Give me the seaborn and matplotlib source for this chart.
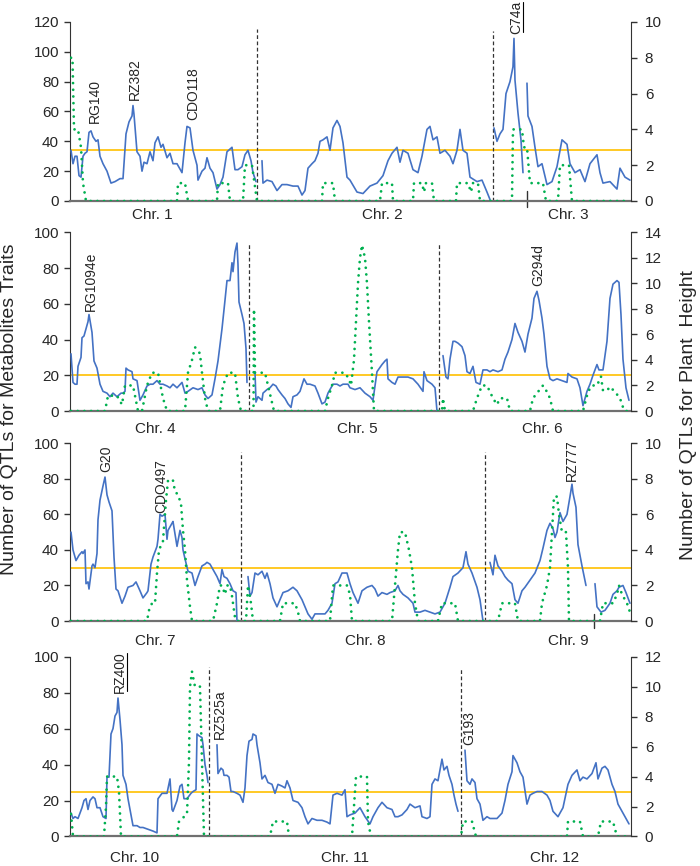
import numpy as np
import pandas as pd
import matplotlib
matplotlib.use('Agg')
import matplotlib.pyplot as plt
from matplotlib.lines import Line2D
import seaborn as sns

sns.set_style('ticks')
plt.rcParams['font.family'] = ['Liberation Sans', 'DejaVu Sans']

# ─── Metabolite QTL counts (left axis) along the genome ───────────────────────
chr1_pos = [1, 3, 5, 7, 9, 11, 13, 15, 17, 19, 21, 23, 26, 28, 30, 33, 37, 41, 45, 50,
            53, 56, 59, 62, 63, 64, 67, 70, 72, 74, 77, 80, 83, 85, 88, 91, 93, 97, 100, 103,
            107, 112, 115, 117, 120, 123, 127, 128, 132, 135, 137, 140, 143, 147, 150, 153, 157, 162, 165, 168,
            172, 175, 178, 181, 183, 186]
chr1_met = [34, 25, 30, 30, 17, 16, 30, 32, 33, 46, 47, 43, 40, 41, 30, 25, 20, 12, 13, 15,
            15, 45, 53, 57, 64, 58, 33, 30, 20, 26, 25, 33, 27, 39, 43, 36, 38, 29, 32, 25,
            25, 19, 39, 50, 49, 34, 24, 14, 20, 22, 29, 22, 19, 8, 11, 16, 33, 36, 21, 21,
            23, 31, 34, 27, 19, 13]
chr2_pos = [192, 193, 197, 202, 207, 212, 217, 223, 228, 232, 235, 238, 242, 245, 248, 250, 253, 257, 260, 263,
            267, 270, 273, 277, 280, 287, 293, 300, 307, 313, 318, 322, 327, 330, 333, 338, 343, 348, 352, 357,
            360, 363, 367, 370, 375, 380, 383, 387, 390, 393, 397, 400, 407, 412, 417, 420]
chr2_met = [27, 12, 14, 13, 7, 11, 11, 10, 10, 4, 7, 22, 25, 27, 32, 40, 41, 43, 34, 49,
            54, 50, 39, 16, 14, 6, 5, 10, 12, 17, 27, 32, 36, 26, 34, 32, 21, 19, 30, 48,
            50, 41, 43, 32, 34, 30, 25, 34, 48, 34, 32, 16, 13, 14, 6, 1]
chr3a_pos = [424, 427, 430, 433, 436, 440, 443, 444, 445, 448, 451, 453]
chr3a_met = [49, 40, 45, 48, 72, 80, 90, 109, 81, 59, 41, 19]
chr3b_pos = [457, 458, 462, 465, 468, 472, 477, 482, 487, 492, 497, 500, 505, 510, 515, 520,
             527, 530, 533, 540, 547, 550, 555, 560]
chr3b_met = [79, 57, 50, 36, 23, 25, 11, 13, 23, 41, 38, 25, 19, 21, 13, 25,
             31, 19, 12, 13, 8, 22, 16, 14]

chr4_pos = [1, 3, 5, 7, 8, 11, 12, 14, 16, 18, 19, 22, 24, 27, 30, 33, 37, 40, 43, 47,
            51, 53, 55, 56, 58, 62, 63, 67, 70, 73, 77, 80, 83, 87, 90, 93, 97, 100, 103, 107,
            112, 115, 118, 123, 128, 132, 135, 138, 142, 145, 148, 152, 155, 157, 160, 162, 163, 165, 167, 168,
            169, 172, 174, 176, 177]
chr4_met = [32, 16, 15, 15, 25, 30, 41, 42, 46, 50, 54, 44, 28, 24, 15, 11, 10, 8, 10, 8,
            10, 10, 11, 24, 23, 22, 18, 17, 6, 9, 14, 15, 15, 17, 15, 15, 14, 13, 15, 13,
            16, 10, 11, 13, 12, 13, 9, 7, 9, 18, 28, 46, 62, 73, 73, 83, 78, 89, 94, 82,
            61, 54, 49, 35, 16]
chr5_pos = [185, 186, 188, 192, 193, 197, 200, 203, 206, 208, 212, 215, 218, 221, 223, 227, 230, 234, 237, 240,
            245, 248, 252, 255, 258, 263, 267, 270, 273, 278, 280, 285, 290, 295, 300, 303, 307, 312, 315, 317,
            318, 322, 325, 328, 333, 338, 343, 348, 353, 354, 357, 362, 365, 367]
chr5_met = [22, 5, 8, 6, 10, 12, 13, 15, 14, 12, 9, 7, 4, 2, 8, 9, 11, 18, 15, 15,
            14, 10, 4, 5, 10, 15, 15, 14, 15, 15, 13, 12, 13, 10, 8, 6, 22, 26, 28, 29,
            18, 16, 15, 19, 19, 19, 18, 15, 11, 22, 17, 15, 13, 0]
chr6_pos = [373, 376, 378, 380, 383, 385, 388, 392, 395, 397, 400, 403, 406, 410, 413, 417, 420, 423, 428, 432,
            435, 438, 442, 445, 448, 452, 455, 458, 462, 464, 467, 469, 472, 474, 477, 480, 483, 487, 492, 497,
            498, 502, 507, 510, 513, 517, 520, 523, 527, 529, 533, 537, 540, 543, 547, 549, 551, 553, 556, 559]
chr6_met = [31, 19, 18, 29, 39, 39, 38, 36, 31, 22, 21, 25, 16, 15, 23, 23, 22, 23, 22, 23,
            29, 33, 40, 49, 44, 39, 33, 43, 52, 63, 67, 62, 52, 43, 25, 18, 17, 18, 17, 16,
            21, 19, 18, 13, 3, 11, 15, 20, 26, 23, 23, 39, 63, 71, 73, 72, 54, 29, 13, 6]

chr7_pos = [1, 3, 6, 9, 12, 13, 15, 16, 18, 19, 22, 23, 25, 27, 28, 30, 33, 35, 37, 39,
            42, 44, 46, 48, 52, 55, 58, 63, 66, 70, 73, 77, 78, 81, 83, 87, 88, 90, 92, 95,
            97, 98, 102, 103, 107, 110, 112, 113, 115, 118, 122, 125, 128, 132, 135, 137, 140, 143, 147, 150,
            152, 154, 157, 160, 163, 166, 167]
chr7_met = [50, 40, 34, 37, 39, 38, 40, 21, 22, 18, 31, 32, 30, 38, 57, 68, 76, 81, 71, 67,
            62, 36, 18, 17, 10, 14, 19, 20, 22, 17, 13, 16, 17, 32, 36, 42, 46, 60, 59, 60,
            46, 51, 55, 56, 42, 51, 47, 40, 35, 28, 27, 20, 25, 31, 32, 33, 32, 29, 25, 21,
            29, 25, 24, 21, 17, 16, 0]
chr8_pos = [178, 180, 182, 185, 188, 192, 195, 197, 200, 203, 207, 210, 213, 218, 223, 227, 232, 235, 238, 242,
            245, 250, 255, 258, 262, 265, 268, 272, 277, 280, 283, 288, 292, 297, 302, 305, 308, 312, 317, 320,
            325, 328, 330, 333, 338, 343, 345, 350, 355, 360, 365, 370, 375, 380, 383, 388, 393, 396, 398, 402,
            407, 410, 413]
chr8_met = [25, 14, 16, 27, 26, 28, 24, 27, 21, 13, 8, 12, 16, 17, 19, 17, 12, 8, 4, 1,
            4, 4, 4, 6, 10, 21, 22, 27, 27, 21, 16, 10, 17, 19, 20, 18, 14, 16, 15, 16,
            17, 20, 17, 15, 13, 10, 5, 5, 6, 5, 4, 5, 10, 19, 25, 27, 30, 39, 32, 27,
            19, 12, 0]
chr9a_pos = [420, 423, 425, 428, 432, 435, 438, 442, 445, 448, 452, 455, 460, 465, 470, 473, 477, 480, 483, 485,
             487, 490, 493, 497, 500, 502, 503, 506, 508, 512, 516]
chr9a_met = [33, 26, 37, 31, 28, 25, 23, 21, 12, 10, 17, 19, 23, 27, 34, 41, 51, 55, 52, 47,
             50, 61, 56, 60, 70, 77, 72, 64, 43, 31, 20]
chr9b_pos = [525, 527, 531, 535, 540, 543, 547, 549, 553, 556, 560]
chr9b_met = [21, 8, 5, 6, 10, 15, 17, 19, 20, 16, 10]

chr10_pos = [1, 3, 5, 8, 12, 14, 16, 18, 20, 23, 25, 27, 30, 33, 36, 37, 39, 41, 43, 45,
             47, 48, 50, 52, 53, 56, 58, 61, 63, 67, 70, 73, 78, 83, 87, 88, 92, 97, 100, 102,
             103, 107, 110, 112, 114, 117, 121, 123, 126, 127, 129, 132, 133, 135, 137, 138]
chr10_met = [13, 10, 11, 10, 16, 20, 21, 15, 20, 22, 21, 16, 16, 11, 10, 33, 33, 57, 60, 67,
             69, 77, 65, 51, 34, 29, 21, 12, 6, 6, 5, 5, 4, 3, 2, 21, 24, 24, 32, 15,
             14, 20, 28, 29, 21, 21, 24, 25, 26, 57, 56, 55, 51, 40, 34, 30]
chr11_pos = [147, 148, 151, 153, 154, 157, 159, 161, 163, 167, 170, 173, 175, 177, 179, 182, 183, 186, 187, 190,
             192, 195, 198, 202, 205, 208, 212, 215, 217, 220, 223, 228, 232, 235, 238, 242, 247, 252, 257, 260,
             263, 267, 272, 275, 277, 280, 285, 290, 295, 300, 303, 308, 312, 317, 322, 325, 328, 332, 337, 340,
             345, 350, 352, 357, 360, 362, 365, 368, 372, 374, 377, 379, 382, 384, 386, 388]
chr11_met = [51, 35, 38, 37, 34, 34, 33, 25, 25, 24, 23, 19, 27, 45, 53, 54, 57, 56, 51, 41,
             32, 34, 30, 29, 24, 29, 28, 27, 31, 27, 20, 19, 16, 11, 7, 10, 9, 9, 8, 7,
             23, 24, 23, 26, 11, 12, 13, 16, 11, 7, 11, 16, 19, 16, 15, 11, 11, 12, 15, 18,
             16, 17, 11, 10, 11, 29, 32, 31, 43, 37, 39, 34, 29, 23, 18, 14]
chr12_pos = [395, 397, 400, 402, 405, 407, 410, 413, 417, 420, 427, 432, 435, 438, 442, 443, 447, 450, 453, 457,
             460, 463, 467, 472, 477, 480, 483, 488, 493, 498, 502, 507, 510, 513, 517, 522, 526, 528, 532, 535,
             538, 542, 545, 548, 552, 555, 559]
chr12_met = [48, 31, 29, 32, 30, 21, 18, 9, 11, 10, 10, 13, 20, 29, 36, 45, 41, 36, 33, 18,
             23, 24, 25, 25, 23, 20, 14, 11, 16, 29, 34, 37, 31, 33, 32, 35, 41, 32, 38, 39,
             37, 29, 25, 18, 14, 11, 7]

# ─── Plant height QTL counts (right axis) ────────────────────────────────────
ph1_pos = [1, 2.5, 4, 8, 11, 13, 16, 107, 108, 115, 118, 147, 148, 158, 160, 173, 175, 182, 187,
           252, 253, 263, 265, 310, 312, 322, 323, 343, 344, 352, 354, 356, 362, 364,
           386, 387, 398, 401, 403, 408, 410, 442, 443, 452, 454, 457, 460, 473, 476,
           488, 490, 499, 502, 560]
ph1_val = [8, 8, 4, 4, 3, 1, 0, 0, 1, 1, 0, 0, 1, 1, 0, 0, 2, 2, 0,
           0, 1, 1, 0, 0, 1, 1, 0, 0, 1, 1, 0.5, 1, 1, 0,
           0, 1, 1, 0.5, 1, 1, 0, 0, 4, 4, 3, 3, 1, 1, 0,
           0, 2, 2, 0, 0]
ph2_pos = [1, 35, 38, 47, 52, 55, 63, 68, 72, 77, 82, 88, 93, 97, 115, 118, 122, 125, 130, 132,
           135, 138, 150, 153, 158, 165, 168, 171,
           183.5, 184, 185, 195, 198, 201, 204, 255, 258, 262, 265, 275, 279, 281, 284, 286, 288, 290,
           292, 295, 297, 299, 302, 304,
           369, 372, 373, 375, 403, 407, 412, 417, 420, 423, 427, 430, 437, 440, 460, 463, 468, 473,
           477, 480, 483, 513, 518, 522, 527, 531, 533, 537, 540, 545, 550, 553, 555, 559]
ph2_val = [0, 0, 1.2, 1.2, 0.5, 2, 2, 0, 0, 2, 3, 3, 1, 0, 0, 3, 4, 5, 4.5, 3,
           1, 0, 0, 2, 3, 3, 1, 0,
           0, 8, 3, 3, 2, 1, 0, 0, 1, 2, 3, 3, 2.5, 2, 4, 7, 10, 12,
           13, 12, 10, 7, 3, 0,
           0, 0, 1, 0, 0, 1, 2, 2, 1.5, 1, 0.5, 1, 1, 0, 0, 1, 1.5, 2,
           1.5, 1, 0, 0, 1.5, 2, 2, 2.7, 1.6, 1.6, 1.9, 1.5, 1, 0.3, 0, 0]
ph3_pos = [1, 77, 79, 82, 85, 87, 89, 93, 96, 98, 101, 103, 105, 108, 111, 113, 115, 117, 120, 122,
           143, 147, 150, 152, 155, 157, 160, 162, 165, 167,
           176, 178, 181, 183, 210, 213, 225, 228, 230, 260, 263, 277, 280, 282, 322, 325, 328, 330, 335, 339,
           342, 345, 348, 368, 372, 380, 385, 388,
           413, 428, 432, 440, 445, 448, 470, 472, 477, 480, 482, 484, 487, 489, 492, 496, 498, 499, 530, 533,
           538, 543, 547, 549, 552, 557, 560]
ph3_val = [0, 0, 0.6, 1, 1, 2.7, 4, 4.5, 6.8, 7.9, 8, 7.9, 7.3, 7.1, 6.6, 5.1, 4, 2.3, 0.8, 0,
           0, 1, 2, 2, 1.5, 2, 2, 1.4, 0.2, 0,
           0, 2, 1, 0, 0, 1, 1, 0.5, 0, 0, 2, 2, 1.5, 0, 0, 2, 4, 5, 5, 4,
           3, 1, 0, 0, 1, 1, 1, 0,
           0, 0, 1, 1, 1, 0, 0, 1, 2, 3, 5, 7, 7, 6, 5, 5, 3, 0, 0, 1,
           1, 1, 1.5, 2, 1.5, 1, 0.5]
ph4_pos = [1, 3, 34, 36, 37, 47, 49, 51, 107, 109, 117, 119, 120, 122, 125, 130, 132, 134, 139,
           147, 200, 203, 217, 219, 282, 284, 286, 297, 298, 301,
           391, 393, 402, 406, 497, 498, 510, 513, 528, 531, 543, 547, 559]
ph4_val = [1.5, 0, 0, 2, 4, 4, 3, 0, 0, 1, 1.5, 5, 10, 11, 10, 10, 5, 0, 0,
           0, 0, 1, 1, 0, 0, 2, 4, 4, 1, 0,
           0, 1, 1, 0, 0, 1, 1, 0, 0, 1, 1, 0, 0]

THRESHOLDS = [34, 20, 30, 25]
LEFT_MAX = [120, 100, 100, 100]
RIGHT_MAX = [10, 14, 10, 12]
CHR_BOUNDS = [[187, 423], [179, 369], [171, 415], [139, 391]]
CHR_BOUND_TOP = [[115, 114], [94, 94], [95, 95], [94, 93]]
CHR_NAMES = [['Chr. 1', 'Chr. 2', 'Chr. 3'], ['Chr. 4', 'Chr. 5', 'Chr. 6'],
             ['Chr. 7', 'Chr. 8', 'Chr. 9'], ['Chr. 10', 'Chr. 11', 'Chr. 12']]
CHR_LABEL_X = [[82, 312, 498], [85, 287, 472], [85, 295, 498], [65, 275, 485]]
CHR_LABEL_OFF = [0.08, 0.10, 0.11, 0.12]
# short break marks inside chr. 3 and chr. 9
BREAK_X = [[457], [], [524], []]
BREAK_Y = [(7, -4), None, (4, -4), None]

markers_1 = ['RG140', 'RZ382', 'CDO118', 'C74a']
markers_1_x = [25, 65, 123, 446]
markers_1_y = [52, 68, 54, 112]
markers_2 = ['RG1094e', 'G294d']
markers_2_x = [21, 468]
markers_2_y = [56, 70]
markers_3 = ['G20', 'CDO497', 'RZ777']
markers_3_x = [36, 91, 502]
markers_3_y = [84, 61, 79]
markers_4 = ['RZ400', 'RZ525a', 'G193']
markers_4_x = [50, 150, 399]
markers_4_y = [80, 54, 51]
UNDERLINED = ['C74a', 'RZ400']

BLUE = '#4472C4'
GREEN = '#00B050'
YELLOW = '#FFC000'


def met_frame(segments):
    parts = []
    for k, (p, v) in enumerate(segments):
        parts.append(pd.DataFrame({'pos': p, 'met': v, 'seg': k}))
    return pd.concat(parts, ignore_index=True)


panels = [
    dict(met=met_frame([(chr1_pos, chr1_met), (chr2_pos, chr2_met),
                        (chr3a_pos, chr3a_met), (chr3b_pos, chr3b_met)]),
         ph=pd.DataFrame({'pos': ph1_pos, 'ph': ph1_val}),
         mk=(markers_1, markers_1_x, markers_1_y)),
    dict(met=met_frame([(chr4_pos, chr4_met), (chr5_pos, chr5_met), (chr6_pos, chr6_met)]),
         ph=pd.DataFrame({'pos': ph2_pos, 'ph': ph2_val}),
         mk=(markers_2, markers_2_x, markers_2_y)),
    dict(met=met_frame([(chr7_pos, chr7_met), (chr8_pos, chr8_met),
                        (chr9a_pos, chr9a_met), (chr9b_pos, chr9b_met)]),
         ph=pd.DataFrame({'pos': ph3_pos, 'ph': ph3_val}),
         mk=(markers_3, markers_3_x, markers_3_y)),
    dict(met=met_frame([(chr10_pos, chr10_met), (chr11_pos, chr11_met), (chr12_pos, chr12_met)]),
         ph=pd.DataFrame({'pos': ph4_pos, 'ph': ph4_val}),
         mk=(markers_4, markers_4_x, markers_4_y)),
]

# axes boxes (figure fractions)
boxes = [(0.100, 0.7679, 0.8014, 0.2067),
         (0.100, 0.5254, 0.8014, 0.2063),
         (0.100, 0.2829, 0.8014, 0.2052),
         (0.100, 0.0341, 0.8014, 0.2076)]

fig = plt.figure(figsize=(7, 8.66), dpi=100)
under_texts = []

for i, pnl in enumerate(panels):
    ax = fig.add_axes(boxes[i])
    ax2 = ax.twinx()

    ax.axhline(THRESHOLDS[i], color=YELLOW, lw=1.2, zorder=1)
    ax.vlines(CHR_BOUNDS[i], 0, CHR_BOUND_TOP[i], colors='#333333',
              linestyles=(0, (3, 2)), lw=0.9, zorder=2)
    sns.lineplot(data=pnl['met'], x='pos', y='met', units='seg', estimator=None,
                 sort=False, color=BLUE, lw=1.2, ax=ax, zorder=3)
    sns.lineplot(data=pnl['ph'], x='pos', y='ph', estimator=None, sort=False,
                 color=GREEN, lw=2.0, linestyle=(0, (0.01, 2.4)),
                 dash_capstyle='round', ax=ax2)

    for bx in BREAK_X[i]:
        ax.plot([bx, bx], BREAK_Y[i], color='#333333', lw=1, clip_on=False)

    ax.set_xlim(0, 561)
    ax.set_ylim(0, LEFT_MAX[i])
    ax.set_yticks(range(0, LEFT_MAX[i] + 1, 20))
    ax2.set_ylim(0, RIGHT_MAX[i])
    ax2.set_yticks(range(0, RIGHT_MAX[i] + 1, 2))
    ax.set_xticks([])
    for a in (ax, ax2):
        a.set_xlabel('')
        a.set_ylabel('')
    ax.tick_params(axis='y', length=4, width=1, labelsize=11, pad=4, color='#333333')
    ax2.tick_params(axis='y', length=4, width=1, labelsize=11, pad=6, color='#333333')

    ax.spines['top'].set_visible(False)
    ax.spines['right'].set_visible(False)
    ax.spines['left'].set_color('#333333')
    ax.spines['bottom'].set_color('#707070')
    ax.spines['bottom'].set_linewidth(1.6)
    for s in ('top', 'left', 'bottom'):
        ax2.spines[s].set_visible(False)
    ax2.spines['right'].set_color('#333333')

    for name, lx in zip(CHR_NAMES[i], CHR_LABEL_X[i]):
        ax.text(lx, -CHR_LABEL_OFF[i], name, transform=ax.get_xaxis_transform(),
                ha='center', va='center', fontsize=11)

    names, mx, my = pnl['mk']
    for name, x, y in zip(names, mx, my):
        t = ax.text(x, y, name, rotation=90, ha='center', va='bottom',
                    fontsize=10, clip_on=False)
        if name in UNDERLINED:
            under_texts.append(t)

fig.text(0.014, 0.527, 'Number of QTLs for Metabolites Traits', rotation=90,
         ha='center', va='center', fontsize=14)
fig.text(0.983, 0.521, 'Number of QTLs for Plant  Height', rotation=90,
         ha='center', va='center', fontsize=14)

# underline rotated marker names (a vertical rule on their right side)
fig.canvas.draw()
renderer = fig.canvas.get_renderer()
inv = fig.transFigure.inverted()
for t in under_texts:
    bb = t.get_window_extent(renderer)
    (x0, y0), (x1, y1) = inv.transform([(bb.x0, bb.y0), (bb.x1, bb.y1)])
    fig.add_artist(Line2D([x1, x1], [y0 + 0.002, y1 - 0.002], color='black', lw=0.8,
                          transform=fig.transFigure))

fig.savefig('out.png', dpi=100)
